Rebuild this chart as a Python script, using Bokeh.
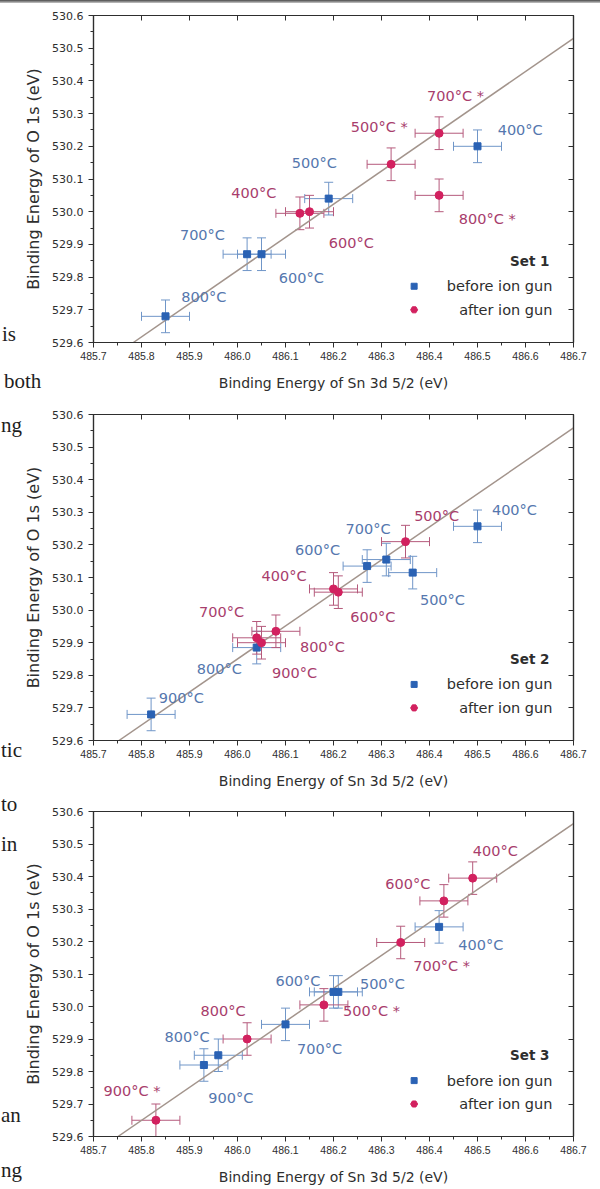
from bokeh.plotting import figure
from bokeh.models import (ColumnDataSource, Whisker, TeeHead, Label, LinearAxis,
                          FixedTicker, Range1d, PrintfTickFormatter, Div)
from bokeh.layouts import column
from bokeh.embed import file_html
from bokeh.resources import INLINE
from bokeh.core.properties import value

# ---- axes ----
X_TICKS = [485.7, 485.8, 485.9, 486.0, 486.1, 486.2, 486.3, 486.4, 486.5, 486.6, 486.7]
X_MINOR = [485.75, 485.85, 485.95, 486.05, 486.15, 486.25, 486.35, 486.45, 486.55, 486.65]
Y_TICKS = [529.6, 529.7, 529.8, 529.9, 530.0, 530.1, 530.2, 530.3, 530.4, 530.5, 530.6]
Y_MINOR = [529.65, 529.75, 529.85, 529.95, 530.05, 530.15, 530.25, 530.35, 530.45, 530.55]
X_TITLE = "Binding Energy of Sn 3d 5/2 (eV)"
Y_TITLE = "Binding Energy of O 1s (eV)"

# ---- Set 1 ----
S1_BEFORE_TAG = ["400°C", "500°C", "600°C", "700°C", "800°C"]
S1_BEFORE_SN = [486.50, 486.19, 486.05, 486.02, 485.85]
S1_BEFORE_O = [530.20, 530.04, 529.87, 529.87, 529.68]
S1_BEFORE_SN_ERR = [0.05, 0.05, 0.05, 0.05, 0.05]
S1_BEFORE_O_ERR = [0.05, 0.05, 0.05, 0.05, 0.05]
S1_AFTER_TAG = ["400°C", "500°C *", "600°C", "700°C *", "800°C *"]
S1_AFTER_SN = [486.13, 486.32, 486.15, 486.42, 486.42]
S1_AFTER_O = [529.995, 530.145, 530.00, 530.24, 530.05]
S1_AFTER_SN_ERR = [0.05, 0.05, 0.05, 0.05, 0.05]
S1_AFTER_O_ERR = [0.05, 0.05, 0.05, 0.05, 0.05]
S1_FIT_SN = [485.783, 486.70]
S1_FIT_O = [529.60, 530.53]

# ---- Set 2 ----
S2_BEFORE_TAG = ["400°C", "500°C", "600°C", "700°C", "800°C", "900°C"]
S2_BEFORE_SN = [486.50, 486.365, 486.27, 486.31, 486.04, 485.82]
S2_BEFORE_O = [530.257, 530.115, 530.135, 530.155, 529.885, 529.68]
S2_BEFORE_SN_ERR = [0.05, 0.05, 0.05, 0.05, 0.05, 0.05]
S2_BEFORE_O_ERR = [0.05, 0.05, 0.05, 0.05, 0.05, 0.05]
S2_AFTER_TAG = ["400°C", "500°C", "600°C", "700°C", "800°C", "900°C"]
S2_AFTER_SN = [486.20, 486.35, 486.21, 486.04, 486.08, 486.05]
S2_AFTER_O = [530.065, 530.21, 530.055, 529.915, 529.935, 529.90]
S2_AFTER_SN_ERR = [0.05, 0.05, 0.05, 0.05, 0.05, 0.05]
S2_AFTER_O_ERR = [0.05, 0.05, 0.05, 0.05, 0.05, 0.05]
S2_FIT_SN = [485.753, 486.70]
S2_FIT_O = [529.60, 530.559]

# ---- Set 3 ----
S3_BEFORE_TAG = ["400°C", "500°C", "600°C", "700°C", "800°C", "900°C"]
S3_BEFORE_SN = [486.42, 486.21, 486.20, 486.10, 485.96, 485.93]
S3_BEFORE_O = [530.245, 530.045, 530.045, 529.945, 529.85, 529.82]
S3_BEFORE_SN_ERR = [0.05, 0.05, 0.05, 0.05, 0.05, 0.05]
S3_BEFORE_O_ERR = [0.05, 0.05, 0.05, 0.05, 0.05, 0.05]
S3_AFTER_TAG = ["400°C", "500°C *", "600°C", "700°C *", "800°C", "900°C *"]
S3_AFTER_SN = [486.49, 486.18, 486.43, 486.34, 486.02, 485.83]
S3_AFTER_O = [530.395, 530.005, 530.325, 530.197, 529.90, 529.65]
S3_AFTER_SN_ERR = [0.05, 0.05, 0.05, 0.05, 0.05, 0.05]
S3_AFTER_O_ERR = [0.05, 0.05, 0.05, 0.05, 0.05, 0.05]
S3_FIT_SN = [485.751, 486.70]
S3_FIT_O = [529.60, 530.563]

# ---- where each temperature tag sits (left edge, vertical centre) ----
S1_BEFORE_TAG_X = [486.542, 486.113, 486.086, 485.880, 485.883]
S1_BEFORE_TAG_Y = [530.250, 530.150, 529.796, 529.930, 529.739]
S1_AFTER_TAG_X = [485.987, 486.236, 486.190, 486.395, 486.461]
S1_AFTER_TAG_Y = [530.056, 530.260, 529.905, 530.355, 529.977]

S2_BEFORE_TAG_X = [486.530, 486.380, 486.120, 486.225, 485.915, 485.836]
S2_BEFORE_TAG_Y = [530.307, 530.030, 530.183, 530.250, 529.820, 529.730]
S2_AFTER_TAG_X = [486.050, 486.368, 486.235, 485.920, 486.130, 486.072]
S2_AFTER_TAG_Y = [530.105, 530.290, 529.980, 529.993, 529.887, 529.808]

S3_BEFORE_TAG_X = [486.460, 486.255, 486.079, 486.124, 485.848, 485.939]
S3_BEFORE_TAG_Y = [530.190, 530.070, 530.080, 529.868, 529.906, 529.720]
S3_AFTER_TAG_X = [486.490, 486.220, 486.308, 486.366, 485.923, 485.721]
S3_AFTER_TAG_Y = [530.480, 529.987, 530.377, 530.126, 529.987, 529.740]

# words of the running page text that show in the left margin: (word, left px, baseline px)
MARGIN_WORDS = [("is", 2, 342), ("both", 4, 389), ("ng", 1, 433), ("tic", 1, 758),
                ("to", 1, 812), ("in", 1, 852), ("an", 1, 1123), ("ng", 1, 1178)]

# ---- colours ----
BLUE_PT = "#2a62b4"
RED_PT = "#d2215f"
BLUE_BAR = "#7096c8"
RED_BAR = "#b55a7c"
BLUE_TXT = "#5577ae"
RED_TXT = "#a83d6c"
FIT_COL = "#a3948c"
AX_COL = "#2e2e2e"
TXT_COL = "#2e2e2e"


def add_points(p, sn, o, sn_err, o_err, marker, pt_col, bar_col):
    src = ColumnDataSource(dict(
        x=sn, y=o,
        xl=[a - e for a, e in zip(sn, sn_err)], xu=[a + e for a, e in zip(sn, sn_err)],
        yl=[a - e for a, e in zip(o, o_err)], yu=[a + e for a, e in zip(o, o_err)],
    ))
    for dim, base, lo, hi in (("height", "x", "yl", "yu"), ("width", "y", "xl", "xu")):
        p.add_layout(Whisker(
            source=src, base=base, lower=lo, upper=hi, dimension=dim,
            line_color=bar_col, line_width=1, level="underlay",
            lower_head=TeeHead(size=9, line_color=bar_col, line_width=1),
            upper_head=TeeHead(size=9, line_color=bar_col, line_width=1),
        ))
    p.scatter("x", "y", source=src, marker=marker, size=7 if marker == "square" else 8,
              fill_color=pt_col, line_color=pt_col)


def add_tags(p, xs, ys, tags, col):
    src = ColumnDataSource(dict(x=xs, y=ys, t=tags))
    p.text("x", "y", text="t", source=src, text_color=col,
           text_font=value("DejaVu Sans"), text_font_size="14.5px",
           text_align="left", text_baseline="middle")


def panel(title, height, left, top, bottom, before, after, fit, tags_b, tags_a):
    p = figure(width=600, height=height,
               x_range=Range1d(485.7, 486.7), y_range=Range1d(529.6, 530.6),
               min_border_left=left, min_border_right=600 - left - 487,
               min_border_top=top, min_border_bottom=bottom,
               output_backend="svg", toolbar_location=None)
    p.grid.visible = False
    p.outline_line_color = AX_COL
    p.outline_line_width = 1.2
    p.background_fill_alpha = 0
    p.border_fill_alpha = 0

    xa = p.below[0]
    xa.ticker = FixedTicker(ticks=X_TICKS, minor_ticks=X_MINOR)
    xa.formatter = PrintfTickFormatter(format="%.1f")
    xa.axis_label = X_TITLE
    xa.axis_label_text_font = "DejaVu Sans"
    xa.axis_label_text_font_size = "14px"
    xa.axis_label_text_font_style = "normal"
    xa.axis_label_text_color = TXT_COL
    xa.axis_label_standoff = 12
    xa.major_label_text_font = "Liberation Sans"
    xa.major_label_text_font_size = "10.5px"
    xa.major_label_text_color = TXT_COL
    xa.major_label_standoff = 4

    ya = p.left[0]
    ya.ticker = FixedTicker(ticks=Y_TICKS, minor_ticks=Y_MINOR)
    ya.formatter = PrintfTickFormatter(format="%.1f")
    ya.axis_label = Y_TITLE
    ya.axis_label_text_font = "DejaVu Sans"
    ya.axis_label_text_font_size = "16px"
    ya.axis_label_text_font_style = "normal"
    ya.axis_label_text_color = TXT_COL
    ya.axis_label_standoff = 6
    ya.major_label_text_font = "DejaVu Sans"
    ya.major_label_text_font_size = "11px"
    ya.major_label_text_color = TXT_COL
    ya.major_label_standoff = 5

    for ax in (xa, ya):
        ax.axis_line_color = AX_COL
        ax.axis_line_width = 1.2
        ax.major_tick_line_color = AX_COL
        ax.minor_tick_line_color = AX_COL
        ax.major_tick_in = 0
        ax.major_tick_out = 5
        ax.minor_tick_in = 0
        ax.minor_tick_out = 3

    # mirrored ticks (no numbers) on the top and right edges
    for ticks, side in ((X_TICKS, "above"), (Y_TICKS, "right")):
        ax = LinearAxis(ticker=FixedTicker(ticks=ticks, minor_ticks=[]),
                        major_label_overrides={t: "" for t in ticks},
                        major_label_standoff=0,
                        major_tick_in=5, major_tick_out=0,
                        minor_tick_in=0, minor_tick_out=0,
                        axis_line_color=AX_COL, axis_line_width=1.2,
                        major_tick_line_color=AX_COL)
        p.add_layout(ax, side)

    p.line(fit[0], fit[1], line_color=FIT_COL, line_width=1.5)

    add_points(p, *before, "square", BLUE_PT, BLUE_BAR)
    add_points(p, *after, "circle", RED_PT, RED_BAR)
    add_tags(p, *tags_b, BLUE_TXT)
    add_tags(p, *tags_a, RED_TXT)

    # legend block
    p.add_layout(Label(x=486.65, y=529.85, text=title, text_align="right",
                       text_baseline="middle", text_font="DejaVu Sans",
                       text_font_style="bold", text_font_size="13.5px",
                       text_color=TXT_COL))
    p.add_layout(Label(x=486.656, y=529.772, text="before ion gun", text_align="right",
                       text_baseline="middle", text_font="DejaVu Sans",
                       text_font_size="14.5px", text_color=TXT_COL))
    p.add_layout(Label(x=486.656, y=529.700, text="after ion gun", text_align="right",
                       text_baseline="middle", text_font="DejaVu Sans",
                       text_font_size="14.5px", text_color=TXT_COL))
    p.scatter([486.368], [529.772], marker="square", size=6,
              fill_color=BLUE_PT, line_color=BLUE_PT)
    p.scatter([486.368], [529.700], marker="hex", size=7,
              fill_color=RED_PT, line_color=RED_PT)
    return p


p1 = panel("Set 1", 398, 86, 15, 56,
           (S1_BEFORE_SN, S1_BEFORE_O, S1_BEFORE_SN_ERR, S1_BEFORE_O_ERR),
           (S1_AFTER_SN, S1_AFTER_O, S1_AFTER_SN_ERR, S1_AFTER_O_ERR),
           (S1_FIT_SN, S1_FIT_O),
           (S1_BEFORE_TAG_X, S1_BEFORE_TAG_Y, S1_BEFORE_TAG),
           (S1_AFTER_TAG_X, S1_AFTER_TAG_Y, S1_AFTER_TAG))
p2 = panel("Set 2", 398, 91, 16, 56,
           (S2_BEFORE_SN, S2_BEFORE_O, S2_BEFORE_SN_ERR, S2_BEFORE_O_ERR),
           (S2_AFTER_SN, S2_AFTER_O, S2_AFTER_SN_ERR, S2_AFTER_O_ERR),
           (S2_FIT_SN, S2_FIT_O),
           (S2_BEFORE_TAG_X, S2_BEFORE_TAG_Y, S2_BEFORE_TAG),
           (S2_AFTER_TAG_X, S2_AFTER_TAG_Y, S2_AFTER_TAG))
p3 = panel("Set 3", 393, 93, 15, 53,
           (S3_BEFORE_SN, S3_BEFORE_O, S3_BEFORE_SN_ERR, S3_BEFORE_O_ERR),
           (S3_AFTER_SN, S3_AFTER_O, S3_AFTER_SN_ERR, S3_AFTER_O_ERR),
           (S3_FIT_SN, S3_FIT_O),
           (S3_BEFORE_TAG_X, S3_BEFORE_TAG_Y, S3_BEFORE_TAG),
           (S3_AFTER_TAG_X, S3_AFTER_TAG_Y, S3_AFTER_TAG))

# page text around the figures, laid over the panels' left margins
ASCENT = 17.6  # baseline offset of a 21px serif line with line-height 1
spans = "".join(
    f'<span style="position:absolute;left:{x}px;top:{b - ASCENT:.1f}px;'
    f'font-family:\'Liberation Serif\';font-size:21px;line-height:1;color:#1e1e1e;'
    f'white-space:nowrap">{w}</span>'
    for w, x, b in MARGIN_WORDS
)
edge = ('<div style="position:absolute;left:0;top:0;width:600px;height:3px;'
        'background:linear-gradient(#4a4a4a,#c8c8c8)"></div>')
page = Div(
    text=('<div style="position:absolute;left:0;top:0;width:600px;height:1189px;'
          f'z-index:10;pointer-events:none">{edge}{spans}</div>'),
    width=600, height=0, margin=0,
    styles={"overflow": "visible", "padding": "0", "margin": "0"},
)

layout = column(page, p1, p2, p3, spacing=0)
open("out.html", "w").write(file_html(layout, INLINE))
